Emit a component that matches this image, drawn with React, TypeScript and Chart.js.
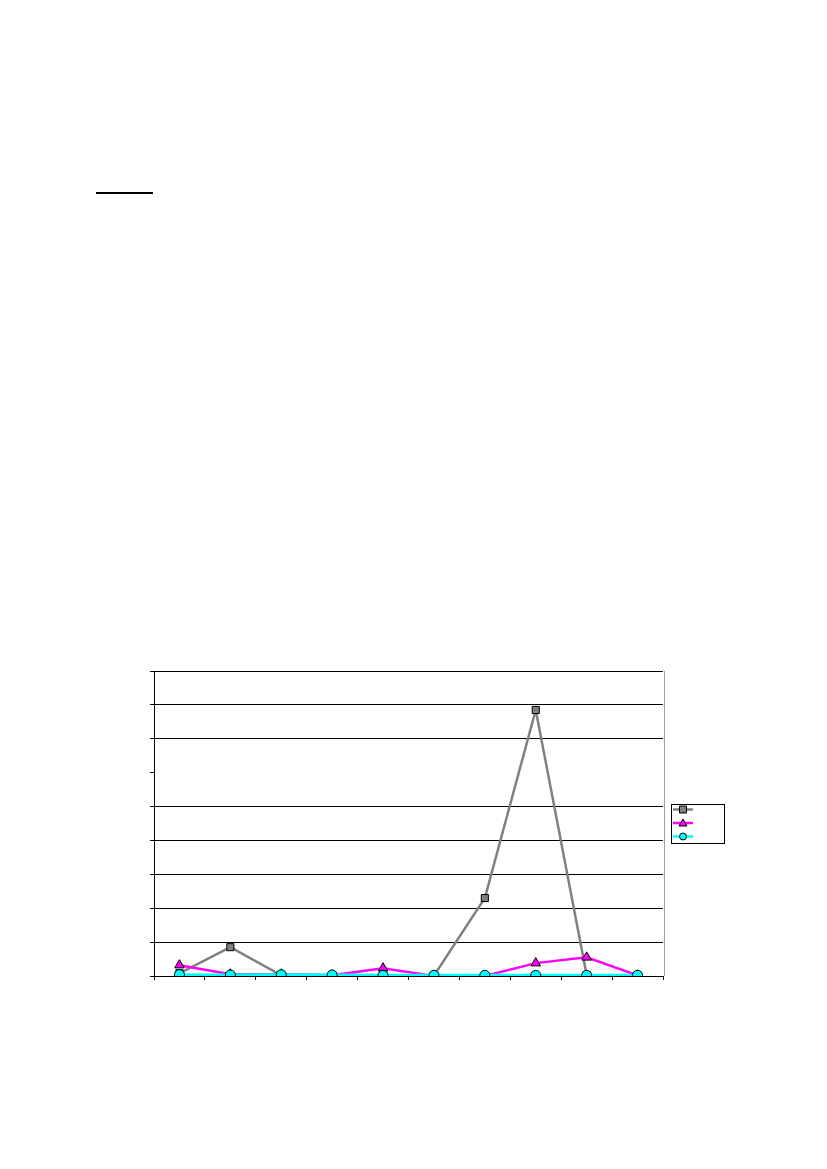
import React, { useEffect, useRef } from "react";
import { Chart, registerables } from "chart.js";

Chart.register(...registerables);

const categories = ["1", "2", "3", "4", "5", "6", "7", "8", "9", "10"];
const seriesGray = [0.08, 0.85, 0.02, 0.03, 0.02, 0.01, 2.3, 7.85, 0.03, 0.02];
const seriesMagenta = [0.32, 0.05, 0.05, 0.02, 0.23, 0.0, 0.0, 0.38, 0.55, 0.02];
const seriesCyan = [0.04, 0.03, 0.04, 0.03, 0.02, 0.02, 0.02, 0.02, 0.02, 0.02];
const yTicksMax = 9;
const hiddenGridValue = 6;

const legendPlugin = {
  id: "excelLegend",
  afterDraw(chart: Chart) {
    const { ctx, chartArea } = chart;
    ctx.save();
    // plot area right border
    ctx.strokeStyle = "#a0a0a0";
    ctx.lineWidth = 1;
    ctx.beginPath();
    ctx.moveTo(chartArea.right + 1.5, chartArea.top);
    ctx.lineTo(chartArea.right + 1.5, chartArea.bottom);
    ctx.stroke();

    const bx = 671.5;
    const by = 804.5;
    ctx.strokeStyle = "#000";
    ctx.strokeRect(bx, by, 53, 39);
    const ds = chart.data.datasets as any[];
    ds.forEach((d, i) => {
      const y = 809.5 + i * 13.5;
      ctx.strokeStyle = d.borderColor;
      ctx.lineWidth = 2.5;
      ctx.beginPath();
      ctx.moveTo(673, y);
      ctx.lineTo(693, y);
      ctx.stroke();
      ctx.fillStyle = d.pointBackgroundColor;
      ctx.strokeStyle = "#000";
      ctx.lineWidth = 1;
      ctx.beginPath();
      if (d.pointStyle === "rect") {
        ctx.rect(679.5, y - 3.5, 7, 7);
      } else if (d.pointStyle === "triangle") {
        ctx.moveTo(683, y - 4);
        ctx.lineTo(687, y + 3);
        ctx.lineTo(679, y + 3);
        ctx.closePath();
      } else {
        ctx.arc(683, y, 3.5, 0, Math.PI * 2);
      }
      ctx.fill();
      ctx.stroke();
    });
    ctx.restore();
  }
};

const App = () => {
  const chartRef = useRef<HTMLCanvasElement>(null);

  useEffect(() => {
    if (!chartRef.current) return;
    const chart = new Chart(chartRef.current, {
      type: "line",
      data: {
        labels: categories,
        datasets: [
          {
            label: "",
            data: seriesGray,
            borderColor: "#808080",
            borderWidth: 2.5,
            pointStyle: "rect",
            pointRadius: 5,
            pointBackgroundColor: "#808080",
            pointBorderColor: "#000",
            pointBorderWidth: 1,
            tension: 0,
            order: 3
          },
          {
            label: "",
            data: seriesMagenta,
            borderColor: "#ff00ff",
            borderWidth: 2.5,
            pointStyle: "triangle",
            pointRadius: 5.5,
            pointBackgroundColor: "#ff00ff",
            pointBorderColor: "#000",
            pointBorderWidth: 1,
            tension: 0,
            order: 2
          },
          {
            label: "",
            data: seriesCyan,
            borderColor: "#00ffff",
            borderWidth: 3,
            pointStyle: "circle",
            pointRadius: 5,
            pointBackgroundColor: "#00ffff",
            pointBorderColor: "#000",
            pointBorderWidth: 1,
            tension: 0,
            order: 1
          }
        ]
      },
      options: {
        responsive: false,
        animation: false,
        layout: { padding: { left: 150, top: 671, right: 164, bottom: 189 } },
        plugins: {
          legend: { display: false },
          tooltip: { enabled: false }
        },
        scales: {
          x: {
            offset: true,
            ticks: { display: false },
            grid: {
              offset: true,
              drawOnChartArea: false,
              drawTicks: true,
              tickLength: 4,
              tickColor: "#000"
            },
            border: { color: "#000", width: 1 }
          },
          y: {
            min: 0,
            max: yTicksMax,
            ticks: { display: false, stepSize: 1 },
            grid: {
              color: (c: any) =>
                c.tick && c.tick.value === hiddenGridValue ? "rgba(0,0,0,0)" : "#000",
              tickLength: 4,
              tickColor: "#000"
            },
            border: { color: "#000", width: 1 }
          }
        }
      },
      plugins: [legendPlugin]
    });
    return () => {
      chart.destroy();
    };
  }, []);

  return (
    <div style={{ position: "absolute", left: 0, top: 0, width: 827, height: 1169 }}>
      <div
        style={{
          position: "absolute",
          left: 96,
          top: 192,
          width: 57,
          height: 2,
          background: "#000"
        }}
      />
      <canvas
        ref={chartRef}
        width={827}
        height={1169}
        style={{ position: "absolute", left: 0, top: 0, width: 827, height: 1169 }}
      />
    </div>
  );
};

export default App;
